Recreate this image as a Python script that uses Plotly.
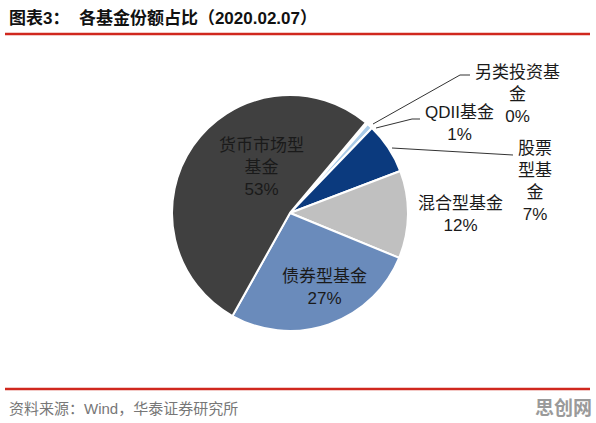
import plotly.graph_objects as go

W, H = 596, 423

categories = ["另类投资基金", "QDII基金", "股票型基金", "混合型基金", "债券型基金", "货币市场型基金"]
values = [0.3, 0.8, 7.0, 12.0, 26.9, 53.0]
pct_labels = ["0%", "1%", "7%", "12%", "27%", "53%"]
colors = ["#ffffff", "#a9cbe8", "#0b3a7e", "#c0c0c0", "#6a8bbb", "#404040"]

# label text layout (line breaks as in the reference)
label_texts = [
    "另类投资基<br>金<br>",
    "QDII基金<br>",
    "股票<br>型基<br>金<br>",
    "混合型基金<br>",
    "债券型基金<br>",
    "货币市场型<br>基金<br>",
]

def px(x):
    return x / W

def py(y):
    return 1 - y / H

cx, cy, r = 290, 213, 118

fig = go.Figure()
fig.add_trace(go.Pie(
    labels=categories,
    values=values,
    sort=False,
    direction="clockwise",
    rotation=40,
    textinfo="none",
    hoverinfo="label+percent",
    marker=dict(colors=colors, line=dict(color="#ffffff", width=2)),
    domain=dict(x=[px(cx - r), px(cx + r)], y=[py(cy + r), py(cy - r)]),
    showlegend=False,
))

cjk = "Noto Sans CJK SC, sans-serif"
mixed = "Liberation Sans, Noto Sans CJK SC, sans-serif"
# label positions (pixels): centre x, centre y
label_pos = [(517, 94), (459, 124), (535, 182), (460, 215), (324, 287), (261, 167)]
annotations = []
for txt, pc, (lx, ly) in zip(label_texts, pct_labels, label_pos):
    annotations.append(dict(
        x=px(lx), y=py(ly), xref="paper", yref="paper",
        text=txt + pc, showarrow=False, align="center",
        xanchor="center", yanchor="middle",
        font=dict(family=mixed, size=17, color="#1a1a1a"),
    ))

# title
annotations.append(dict(
    x=px(7), y=py(18), xref="paper", yref="paper", xanchor="left", yanchor="middle",
    text="<b>图表3：  各基金份额占比（2020.02.07）</b>", showarrow=False,
    font=dict(family=mixed, size=17, color="#111111"),
))
# source
annotations.append(dict(
    x=px(7), y=py(408), xref="paper", yref="paper", xanchor="left", yanchor="middle",
    text="资料来源：Wind，华泰证券研究所", showarrow=False,
    font=dict(family=mixed, size=15, color="#777777"),
))
# watermark
annotations.append(dict(
    x=px(594), y=py(406), xref="paper", yref="paper", xanchor="right", yanchor="middle",
    text="<b>思创网</b>", showarrow=False,
    font=dict(family=cjk, size=19, color="#9a9a9a"),
))

shapes = [
    dict(type="line", xref="paper", yref="paper", x0=px(5), x1=px(590), y0=py(34), y1=py(34),
         line=dict(color="#d0281e", width=2.5)),
    dict(type="line", xref="paper", yref="paper", x0=px(5), x1=px(590), y0=py(389), y1=py(389),
         line=dict(color="#d0281e", width=2.5)),
    # leader lines
    dict(type="path", xref="paper", yref="paper",
         path=f"M {px(373)} {py(124)} L {px(460)} {py(75)} L {px(470)} {py(75)}",
         line=dict(color="#333333", width=1)),
    dict(type="path", xref="paper", yref="paper",
         path=f"M {px(376)} {py(128)} L {px(412)} {py(119)} L {px(420)} {py(119)}",
         line=dict(color="#333333", width=1)),
    dict(type="line", xref="paper", yref="paper", x0=px(392), y0=py(148), x1=px(513), y1=py(155),
         line=dict(color="#333333", width=1)),
]

fig.update_layout(
    width=W, height=H,
    margin=dict(l=0, r=0, t=0, b=0),
    paper_bgcolor="#ffffff", plot_bgcolor="#ffffff",
    annotations=annotations, shapes=shapes,
)

fig.write_html(
    "out.html",
    config={"displayModeBar": False},
    post_script="document.body.style.margin='0';document.body.style.overflow='hidden';",
)
